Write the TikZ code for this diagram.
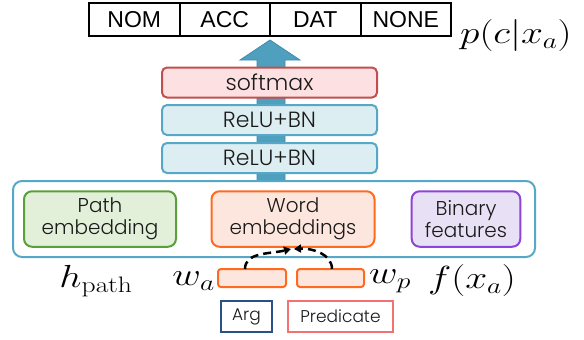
\RequirePackage{fix-cm}
\documentclass[tikz,border=0pt]{standalone}
\usepackage{graphicx}
\usepackage[no-math]{fontspec}
\setmainfont{Poppins Light}
\newfontfamily\arialf{Liberation Sans}
\usetikzlibrary{arrows.meta}
\definecolor{arrowblue}{HTML}{4FA0BE}
\definecolor{arrowedge}{HTML}{3E8CAB}
\definecolor{smfill}{HTML}{FDE0E2}
\definecolor{smedge}{HTML}{C0504D}
\definecolor{relufill}{HTML}{DDEEF3}
\definecolor{reluedge}{HTML}{57A8C6}
\definecolor{pathfill}{HTML}{E2F0DA}
\definecolor{pathedge}{HTML}{5AA03A}
\definecolor{wordfill}{HTML}{FDE6DE}
\definecolor{wordedge}{HTML}{FF6A20}
\definecolor{binfill}{HTML}{E8E1F5}
\definecolor{binedge}{HTML}{8E44D8}
\definecolor{argedge}{HTML}{2A5088}
\definecolor{prededge}{HTML}{F27272}
\definecolor{txt}{HTML}{1A1A1A}
\newcommand{\wmath}[1]{\scalebox{1.27}[1.03]{$#1$}}
\begin{document}
\begin{tikzpicture}[x=1pt,y=-1pt,
  cell/.style={draw=black,line width=2pt,minimum width=90.5pt,minimum height=33pt,inner sep=0pt,font=\arialf\fontsize{23}{26}\selectfont},
  layer/.style={rounded corners=5pt,line width=2pt,minimum width=215pt,minimum height=30pt,inner sep=0pt,text=txt,font=\fontsize{22}{24}\selectfont},
  emb/.style={rounded corners=8pt,line width=2pt,minimum height=55.5pt,inner sep=0pt,align=center,text=txt,font=\fontsize{20}{22}\selectfont},
  wbox/.style={rounded corners=3pt,line width=2pt,draw=wordedge,fill=wordfill,minimum height=18pt,inner sep=0pt},
  lbl/.style={line width=2pt,fill=white,minimum height=31pt,inner sep=0pt,text=txt,font=\fontsize{17}{20}\selectfont},
  mth/.style={inner sep=0pt,font=\fontsize{31}{34}\selectfont},
  dasharrow/.style={line width=2.5pt,dash pattern=on 8pt off 5pt,-{Triangle[length=7pt,width=8pt]}}
]
\useasboundingbox (0,0) rectangle (584,340);
% big arrow
\draw[fill=arrowblue,draw=arrowedge,line width=0.8pt]
  (257,181) -- (257,60) -- (240,60) -- (270,40) -- (300,60) -- (285,60) -- (285,181) -- cycle;
% output cells
\node[cell] (nom) at (134.25,19.5) {NOM};
\node[cell] (acc) at (224.75,19.5) {ACC};
\node[cell] (dat) at (315.25,19.5) {DAT};
\node[cell] (none) at (405.75,19.5) {NONE};
\node[mth,anchor=west] (pc) at (460,36) {\wmath{p(c|x_a)}};
% layers
\node[layer,draw=smedge,fill=smfill] (soft) at (269.5,82.5) {softmax};
\node[layer,draw=reluedge,fill=relufill] (relu1) at (269.5,120) {ReLU+BN};
\node[layer,draw=reluedge,fill=relufill] (relu2) at (269.5,158) {ReLU+BN};
% container
\node[draw=reluedge,line width=2pt,rounded corners=9pt,minimum width=522pt,minimum height=76pt] (cont) at (274,219) {};
\node[emb,draw=pathedge,fill=pathfill,minimum width=152pt] (path) at (100,219) {Path\\embedding};
\node[emb,draw=wordedge,fill=wordfill,minimum width=163pt] (word) at (293,219) {Word\\embeddings};
\node[emb,draw=binedge,fill=binfill,minimum width=108.6pt] (bin) at (466,219) {Binary\\features};
% word vectors
\node[wbox,minimum width=68pt] (wa) at (252,278) {};
\node[wbox,minimum width=67pt] (wp) at (330.5,278) {};
\coordinate (la) at (245,269);
\coordinate (lp) at (332,269);
\coordinate (ta) at (291,249);
\coordinate (tp) at (294,249);
\draw[dasharrow] (la) .. controls (245,252) and (270,254) .. (ta);
\draw[dasharrow] (lp) .. controls (332,254) and (312,248) .. (tp);
% labels
\node[lbl,draw=argedge,minimum width=51pt] (arg) at (246.5,316.5) {Arg};
\node[lbl,draw=prededge,minimum width=105pt] (pred) at (340.5,316.5) {Predicate};
% math labels
\node[mth] (hp) at (96,281) {\wmath{h_{\mathrm{path}}}};
\node[mth,anchor=east] (walbl) at (215,281) {\wmath{w_a}};
\node[mth,anchor=west] (wplbl) at (369,281) {\wmath{w_p}};
\node[mth] (fx) at (472,281) {\wmath{f(x_a)}};
\end{tikzpicture}
\end{document}
